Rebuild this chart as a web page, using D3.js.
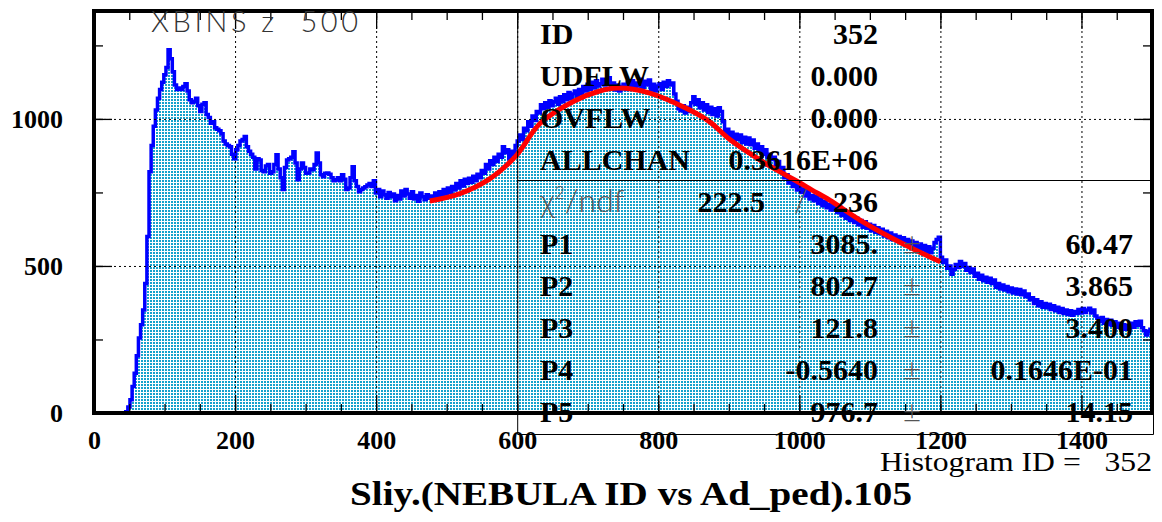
<!DOCTYPE html>
<html lang="en">
<head>
  <meta charset="UTF-8">
  <title>Histogram 352</title>
  <style>
    body { margin: 0; background: #fff; }
    .serif { font-family: "Liberation Serif", "Times New Roman", serif; }
    .thin { font-family: Lato, Roboto, "Open Sans", sans-serif; font-weight: 300; }
  </style>
</head>
<body>
  <svg id="chart" width="1162" height="522"></svg>
  <script src="https://cdn.jsdelivr.net/npm/d3@7"></script>
  <script>

  // histogram: 500 bins of width 3 between 0 and 1500
  var binWidth = 3;
  var counts = [
    0, 0, 0, 0, 0, 0, 0, 0, 0, 0,
    0, 0, 0, 0, 1, 4, 20, 45, 90, 135,
    195, 255, 300, 350, 440, 600, 820, 910, 975, 1030,
    1070, 1100, 1125, 1150, 1175, 1235, 1205, 1160, 1115, 1100,
    1105, 1100, 1110, 1120, 1095, 1065, 1055, 1060, 1070, 1045,
    1025, 1050, 1055, 1015, 1005, 985, 990, 970, 965, 960,
    950, 925, 915, 910, 905, 880, 865, 895, 910, 925,
    930, 940, 905, 890, 880, 870, 830, 865, 860, 825,
    820, 840, 845, 815, 820, 845, 878, 830, 800, 760,
    835, 860, 865, 870, 888, 850, 793, 830, 850, 835,
    815, 816, 830, 827, 845, 884, 850, 810, 803, 815,
    816, 812, 800, 790, 793, 800, 790, 810, 795, 760,
    765, 800, 837, 790, 770, 752, 760, 765, 769, 775,
    780, 770, 790, 748, 760, 735, 755, 742, 730, 750,
    735, 745, 722, 740, 728, 755, 738, 760, 745, 730,
    752, 728, 740, 720, 748, 735, 725, 742, 730, 738,
    728, 748, 735, 752, 740, 760, 745, 765, 750, 770,
    758, 780, 765, 790, 772, 795, 780, 798, 785, 805,
    790, 812, 800, 825, 815, 845, 830, 858, 845, 870,
    855, 880, 870, 905, 885, 895, 865, 890, 880, 910,
    925, 945, 930, 968, 960, 990, 975, 1010, 995, 1025,
    1020, 1048, 1035, 1055, 1040, 1062, 1045, 1058, 1070, 1050,
    1075, 1058, 1082, 1065, 1090, 1070, 1085, 1095, 1072, 1100,
    1085, 1110, 1095, 1118, 1100, 1125, 1105, 1130, 1112, 1120,
    1135, 1115, 1128, 1140, 1110, 1122, 1098, 1115, 1095, 1110,
    1118, 1100, 1125, 1110, 1130, 1105, 1122, 1112, 1135, 1108,
    1128, 1115, 1132, 1098, 1118, 1095, 1112, 1120, 1100, 1125,
    1110, 1130, 1115, 1122, 1085, 1060, 1035, 1028, 1045, 1020,
    1040, 1025, 1055, 1075, 1050, 1065, 1038, 1055, 1030, 1048,
    1022, 1040, 1015, 1035, 1010, 1038, 1025, 990, 955, 965,
    935, 955, 925, 948, 930, 945, 920, 938, 915, 935,
    912, 928, 900, 915, 895, 905, 880, 895, 870, 880,
    862, 870, 845, 855, 825, 835, 800, 810, 782, 790,
    770, 782, 758, 772, 750, 762, 738, 752, 728, 740,
    722, 735, 712, 728, 705, 718, 698, 710, 690, 705,
    695, 682, 700, 672, 690, 662, 678, 655, 670, 648,
    662, 640, 655, 632, 650, 628, 642, 620, 638, 615,
    630, 610, 625, 602, 618, 596, 612, 590, 605, 586,
    600, 580, 596, 572, 590, 568, 585, 562, 580, 560,
    575, 555, 570, 548, 565, 545, 560, 580, 590, 598,
    530, 512, 520, 492, 500, 472, 488, 505, 495, 515,
    498, 508, 485, 495, 478, 490, 465, 475, 455, 468,
    450, 462, 445, 458, 440, 452, 428, 440, 422, 435,
    418, 430, 412, 425, 408, 422, 405, 420, 402, 415,
    395, 405, 385, 392, 372, 385, 365, 378, 360, 372,
    358, 370, 352, 365, 348, 360, 342, 355, 338, 350,
    335, 348, 332, 345, 338, 352, 340, 355, 342, 350,
    356, 340, 350, 330, 322, 312, 325, 305, 318, 300,
    315, 298, 310, 292, 305, 288, 300, 285, 298, 290,
    305, 292, 310, 298, 312, 290, 280, 265, 278, 285
  ];

  // fitted curve
  var fitX = [476, 518, 561, 597, 633, 681, 717, 743, 788, 844, 873, 902, 958, 1001, 1018, 1043, 1086, 1127, 1163, 1200];
  var fitY = [721, 745, 796, 871, 986, 1061, 1095, 1105, 1088, 1031, 990, 929, 840, 782, 758, 724, 656, 600, 556, 514];

  var xMajor = [0, 200, 400, 600, 800, 1000, 1200, 1400];
  var yMajor = [0, 500, 1000];

  var infoLabels = ["ID", "UDFLW", "OVFLW", "ALLCHAN"];
  var infoValues = ["352", "0.000", "0.000", "0.3616E+06"];
  var chi2 = "222.5";
  var ndf = "236";
  var parNames = ["P1", "P2", "P3", "P4", "P5"];
  var parValues = ["3085.", "802.7", "121.8", "-0.5640", "976.7"];
  var parErrors = ["60.47", "3.865", "3.400", "0.1646E-01", "14.15"];

  var title = "Sliy.(NEBULA ID vs Ad_ped).105";
  var histLabel = "Histogram ID =   352";
  var binsLabel = "XBINS z  500";

  var pL = 94, pR = 1152, pT = 11, pB = 413;

  var x = d3.scaleLinear().domain([0, 1500]).range([pL, pR]);
  var y = d3.scaleLinear().domain([0, 1367]).range([pB, pT]);

  var svg = d3.select("#chart");
  svg.append("rect").attr("width", 1162).attr("height", 522).attr("fill", "#fff");

  var defs = svg.append("defs");
  var pat = defs.append("pattern")
    .attr("id", "dots")
    .attr("patternUnits", "userSpaceOnUse")
    .attr("width", 3).attr("height", 3);
  pat.append("rect").attr("width", 3).attr("height", 3).attr("fill", "#ffffff");
  pat.append("rect").attr("width", 2).attr("height", 2).attr("fill", "#16a2cc");

  defs.append("clipPath").attr("id", "plot")
    .append("rect").attr("x", pL).attr("y", pT)
    .attr("width", pR - pL).attr("height", pB - pT);

  // step data: left edge of every bin, plus closing point
  var steps = counts.map(function (c, i) { return [i * binWidth, c]; });
  steps.push([counts.length * binWidth, counts[counts.length - 1]]);

  var area = d3.area()
    .curve(d3.curveStepAfter)
    .x(function (d) { return x(d[0]); })
    .y0(y(0))
    .y1(function (d) { return y(d[1]); });

  var line = d3.line()
    .curve(d3.curveStepAfter)
    .x(function (d) { return x(d[0]); })
    .y(function (d) { return y(d[1]); });

  var plot = svg.append("g").attr("clip-path", "url(#plot)");

  plot.append("path").datum(steps)
    .attr("d", area)
    .attr("fill", "url(#dots)");

  // dotted grid
  var grid = svg.append("g")
    .attr("stroke", "#000").attr("stroke-width", 1)
    .attr("stroke-dasharray", "2,3");
  grid.selectAll("line.v")
    .data(xMajor.filter(function (d) { return d > 0; }))
    .enter().append("line")
    .attr("x1", function (d) { return x(d) + 0.5; })
    .attr("x2", function (d) { return x(d) + 0.5; })
    .attr("y1", pT).attr("y2", pB);
  grid.selectAll("line.h")
    .data(yMajor.filter(function (d) { return d > 0; }))
    .enter().append("line")
    .attr("x1", pL).attr("x2", pR)
    .attr("y1", function (d) { return y(d) + 0.5; })
    .attr("y2", function (d) { return y(d) + 0.5; });

  plot.append("path").datum(steps)
    .attr("d", line)
    .attr("fill", "none")
    .attr("stroke", "#0000ff")
    .attr("stroke-width", 3.5);

  var fitLine = d3.line()
    .curve(d3.curveCatmullRom)
    .x(function (d) { return x(d); })
    .y(function (d, i) { return y(fitY[i]); });
  plot.append("path").datum(fitX)
    .attr("d", fitLine)
    .attr("fill", "none")
    .attr("stroke", "#ff0000")
    .attr("stroke-width", 5);

  // axes (ticks pointing inside the frame)
  function styleAxis(g) {
    g.select(".domain").remove();
    g.selectAll(".tick line").attr("stroke", "#000").attr("stroke-width", 1.3);
  }
  function styleLabels(g) {
    g.selectAll("text")
      .attr("font-family", "'Liberation Serif', 'Times New Roman', serif")
      .attr("font-size", 26).attr("font-weight", "bold").attr("fill", "#000");
  }
  var range50 = d3.range(0, 1501, 50);
  var range250 = d3.range(0, 1367, 250);

  svg.append("g").attr("transform", "translate(0," + pB + ")")
    .call(d3.axisBottom(x).tickValues(range50).tickSize(-9).tickFormat(""))
    .call(styleAxis);
  svg.append("g").attr("transform", "translate(0," + pB + ")")
    .call(d3.axisBottom(x).tickValues(xMajor).tickSize(-18).tickPadding(18).tickFormat(d3.format("d")))
    .call(styleAxis)
    .call(styleLabels);
  svg.append("g").attr("transform", "translate(0," + pT + ")")
    .call(d3.axisTop(x).tickValues(range50).tickSize(-9).tickFormat(""))
    .call(styleAxis);
  svg.append("g").attr("transform", "translate(0," + pT + ")")
    .call(d3.axisTop(x).tickValues(xMajor).tickSize(-18).tickFormat(""))
    .call(styleAxis);

  svg.append("g").attr("transform", "translate(" + pL + ",0)")
    .call(d3.axisLeft(y).tickValues(range250).tickSize(-9).tickFormat(""))
    .call(styleAxis);
  svg.append("g").attr("transform", "translate(" + pL + ",0)")
    .call(d3.axisLeft(y).tickValues(yMajor).tickSize(-18).tickPadding(31).tickFormat(d3.format("d")))
    .call(styleAxis)
    .call(styleLabels);
  svg.append("g").attr("transform", "translate(" + pR + ",0)")
    .call(d3.axisRight(y).tickValues(range250).tickSize(-9).tickFormat(""))
    .call(styleAxis);
  svg.append("g").attr("transform", "translate(" + pR + ",0)")
    .call(d3.axisRight(y).tickValues(yMajor).tickSize(-18).tickFormat(""))
    .call(styleAxis);

  // frame
  svg.append("rect")
    .attr("x", pL).attr("y", pT)
    .attr("width", pR - pL).attr("height", pB - pT)
    .attr("fill", "none").attr("stroke", "#000").attr("stroke-width", 4);

  svg.append("text").attr("class", "thin")
    .attr("x", 151).attr("y", 32)
    .attr("font-size", 29).attr("fill", "#333")
    .attr("textLength", 207).attr("lengthAdjust", "spacing")
    .attr("xml:space", "preserve").style("white-space", "pre")
    .text(binsLabel);

  // statistics box
  var boxL = x(600), boxR = 1153, boxB = 434, sep = 180;
  var box = svg.append("g").attr("stroke", "#000").attr("stroke-width", 1).attr("fill", "none");
  box.append("path")
    .attr("d", "M" + (boxL + 0.5) + "," + pT + "V" + (boxB + 0.5) + "H" + (boxR + 0.5) + "V" + pB);
  box.append("line").attr("x1", boxL).attr("x2", pR).attr("y1", sep + 0.5).attr("y2", sep + 0.5);

  var rowY = function (i) { return 44 + i * 42; };
  var labelX = 540, valueX = 878, pmX = 912, errX = 1133;

  var stats = svg.append("g").attr("class", "serif")
    .attr("font-size", 30).attr("font-weight", "bold").attr("fill", "#000");

  infoLabels.forEach(function (lab, i) {
    stats.append("text").attr("x", labelX).attr("y", rowY(i)).text(lab);
    stats.append("text").attr("x", valueX).attr("y", rowY(i))
      .attr("text-anchor", "end").text(infoValues[i]);
  });

  var chiRow = rowY(4);
  var chiText = svg.append("text").attr("class", "thin")
    .attr("x", labelX).attr("y", chiRow).attr("font-size", 32).attr("fill", "#555");
  chiText.append("tspan").text("\u03c7");
  chiText.append("tspan").attr("dy", -13).attr("font-size", 17).text("2");
  chiText.append("tspan").attr("dy", 13).text("/ndf");
  stats.append("text").attr("x", 765).attr("y", chiRow).attr("text-anchor", "end").text(chi2);
  svg.append("text").attr("class", "thin")
    .attr("x", 801).attr("y", chiRow).attr("text-anchor", "middle")
    .attr("font-size", 32).attr("fill", "#555").text("/");
  stats.append("text").attr("x", valueX).attr("y", chiRow).attr("text-anchor", "end").text(ndf);

  parNames.forEach(function (p, i) {
    var yy = rowY(5 + i);
    stats.append("text").attr("x", labelX).attr("y", yy).text(p);
    stats.append("text").attr("x", valueX).attr("y", yy).attr("text-anchor", "end").text(parValues[i]);
    svg.append("text").attr("class", "thin")
      .attr("x", pmX).attr("y", yy).attr("text-anchor", "middle")
      .attr("font-size", 32).attr("fill", "#555").text("\u00b1");
    stats.append("text").attr("x", errX).attr("y", yy).attr("text-anchor", "end").text(parErrors[i]);
  });

  svg.append("text").attr("class", "serif")
    .attr("x", 1152).attr("y", 471).attr("text-anchor", "end")
    .attr("font-size", 28).attr("fill", "#000")
    .attr("textLength", 272).attr("lengthAdjust", "spacingAndGlyphs")
    .attr("xml:space", "preserve").style("white-space", "pre")
    .text(histLabel);

  svg.append("text").attr("class", "serif")
    .attr("x", 350).attr("y", 505)
    .attr("font-size", 33).attr("font-weight", "bold").attr("fill", "#000")
    .attr("textLength", 562).attr("lengthAdjust", "spacingAndGlyphs")
    .text(title);

  </script>
</body>
</html>
